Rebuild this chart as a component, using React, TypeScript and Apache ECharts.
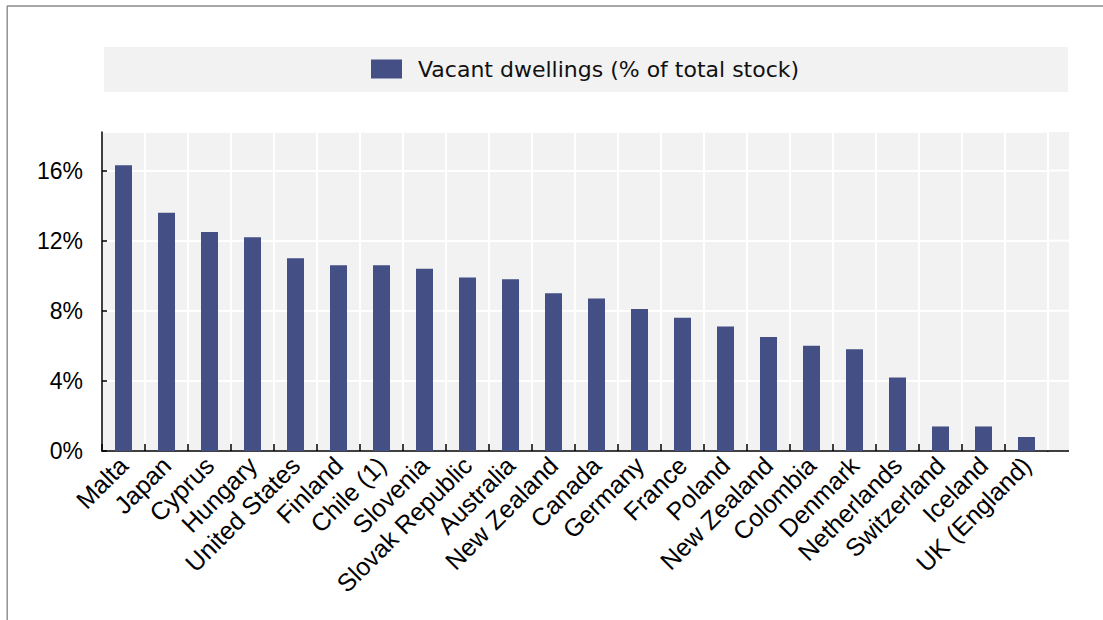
import React, { useEffect, useRef } from "react";
import * as echarts from "echarts";

const categories = [
  "Malta", "Japan", "Cyprus", "Hungary", "United States", "Finland", "Chile (1)",
  "Slovenia", "Slovak Republic", "Australia", "New Zealand", "Canada", "Germany",
  "France", "Poland", "New Zealand", "Colombia", "Denmark", "Netherlands",
  "Switzerland", "Iceland", "UK (England)",
];
const values = [
  16.3, 13.6, 12.5, 12.2, 11.0, 10.6, 10.6, 10.4, 9.9, 9.8, 9.0, 8.7, 8.1,
  7.6, 7.1, 6.5, 6.0, 5.8, 4.2, 1.4, 1.4, 0.8,
];
const seriesName = "Vacant dwellings (% of total stock)";
const yTicks = [0, 4, 8, 12, 16];
const yMax = 18.2;

export default function App() {
  const ref = useRef<HTMLDivElement>(null);
  useEffect(() => {
    const chart = echarts.init(ref.current!, null, { renderer: "svg" });
    const G = { left: 102, top: 132, right: 1048, bottom: 451, extRight: 1069 };
    const axisFont = "'Liberation Sans', Arial, sans-serif";
    const option: any = {
      animation: false,
      backgroundColor: "#ffffff",
      grid: {
        left: G.left,
        top: G.top,
        width: G.right - G.left,
        height: G.bottom - G.top,
        show: true,
        backgroundColor: "#f2f2f2",
        borderWidth: 0,
        containLabel: false,
        outerBoundsMode: "none",
      },
      legend: {
        show: true,
        left: 371,
        top: 58,
        padding: 0,
        itemWidth: 31,
        itemHeight: 19,
        icon: "rect",
        selectedMode: false,
        textStyle: {
          fontFamily: "'DejaVu Sans', sans-serif",
          fontSize: 22,
          color: "#111",
          padding: [0, 0, 0, 11],
        },
        data: [seriesName],
      },
      xAxis: {
        type: "category",
        data: categories,
        boundaryGap: true,
        axisLine: { show: true, lineStyle: { color: "#000", width: 1.5 } },
        axisTick: { show: true, inside: true, length: 7, lineStyle: { color: "#000", width: 1.5 } },
        splitLine: { show: true, lineStyle: { color: "#ffffff", width: 2 } },
        axisLabel: {
          rotate: 45,
          interval: 0,
          margin: 10,
          fontSize: 25,
          fontFamily: axisFont,
          color: "#000",
        },
      },
      yAxis: {
        type: "value",
        min: 0,
        max: yMax,
        interval: 4,
        axisLine: { show: true, lineStyle: { color: "#000", width: 1.5 } },
        axisTick: { show: true, inside: true, length: 5, lineStyle: { color: "#000", width: 1.5 } },
        splitLine: { show: true, lineStyle: { color: "#ffffff", width: 2 } },
        axisLabel: {
          formatter: "{value}%",
          margin: 19,
          fontSize: 23,
          fontFamily: axisFont,
          color: "#000",
          showMaxLabel: false,
        },
      },
      series: [
        {
          name: seriesName,
          type: "bar",
          data: values,
          barWidth: 17,
          itemStyle: { color: "#434f85" },
        },
      ],
    };
    chart.setOption(option);

    const ys = yTicks
      .filter((v) => v > 0)
      .map((v) => chart.convertToPixel({ yAxisIndex: 0 }, v) as number);

    const graphics: any[] = [
      {
        type: "line",
        id: "frameTop",
        shape: { x1: 7, y1: 6, x2: 1103, y2: 6 },
        style: { stroke: "#8a8a8a", lineWidth: 1.6 },
        z: 10,
      },
      {
        type: "line",
        id: "frameLeft",
        shape: { x1: 7.2, y1: 6, x2: 7.2, y2: 620 },
        style: { stroke: "#8a8a8a", lineWidth: 1.4 },
        z: 10,
      },
      {
        type: "rect",
        id: "legendBg",
        shape: { x: 104, y: 47, width: 964, height: 45 },
        style: { fill: "#f2f2f2" },
        z: -1,
      },
      {
        type: "rect",
        id: "ext",
        shape: { x: G.right, y: G.top, width: G.extRight - G.right, height: G.bottom - G.top },
        style: { fill: "#f2f2f2" },
        z: 0,
      },
      ...ys.map((y, i) => ({
        type: "line",
        id: "extLine" + i,
        shape: { x1: G.right, y1: y, x2: G.extRight, y2: y },
        style: { stroke: "#ffffff", lineWidth: 2 },
        z: 1,
      })),
      {
        type: "line",
        id: "extRightSplit",
        shape: { x1: G.right, y1: G.top, x2: G.right, y2: G.bottom },
        style: { stroke: "#ffffff", lineWidth: 2 },
        z: 1,
      },
      {
        type: "line",
        id: "extAxis",
        shape: { x1: G.right - 1, y1: G.bottom, x2: G.extRight, y2: G.bottom },
        style: { stroke: "#000", lineWidth: 1.5 },
        z: 2,
      },
    ];
    chart.setOption({ graphic: graphics });

    return () => chart.dispose();
  }, []);
  return (
    <div
      ref={ref}
      style={{ position: "fixed", left: 0, top: 0, width: 1103, height: 620, background: "#fff" }}
    />
  );
}
